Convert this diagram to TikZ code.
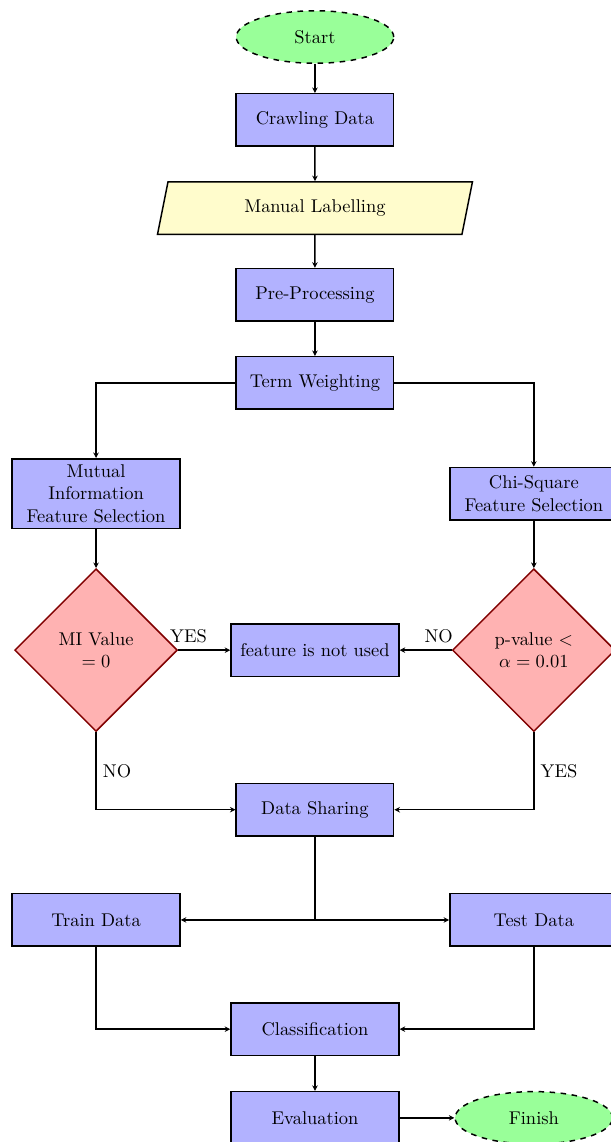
\documentclass[tikz,border=0pt]{standalone}
\usetikzlibrary{shapes.geometric,arrows.meta}
\usepackage{amsmath}

\begin{document}
\begin{tikzpicture}[>={Stealth[length=3pt,width=3pt]},
  startstop/.style={ellipse,draw,dashed,thick,fill=green!40,minimum width=3cm,minimum height=1cm},
  process/.style={rectangle,draw,thick,fill=blue!30,minimum width=3cm,minimum height=1cm,align=center},
  wideprocess/.style={process,minimum width=3.2cm},
  io/.style={trapezium,trapezium left angle=70,trapezium right angle=110,trapezium stretches body,
    draw,thick,fill=yellow!20,minimum width=6cm,minimum height=1cm},
  decision/.style={diamond,draw=red!50!black,thick,fill=red!30,aspect=1,minimum size=3.1cm,
    inner sep=0pt,align=center},
  arrow/.style={thick,->},
  line/.style={thick}]

  \useasboundingbox (-6,0.705) rectangle (5.638,-21.05);

  % Alur utama
  \node[startstop] (start) at (0,0) {Start};
  \node[process] (crawl) at (0,-1.58) {Crawling Data};
  \node[io] (label) at (0,-3.26) {Manual Labelling};
  \node[process] (prepro) at (0,-4.91) {Pre-Processing};
  \node[process] (term) at (0,-6.59) {Term Weighting};

  % Seleksi fitur
  \node[wideprocess] (mi) at (-4.17,-8.7) {Mutual\\ Information\\ Feature Selection};
  \node[wideprocess] (chi) at (4.17,-8.7) {Chi-Square\\ Feature Selection};
  \node[decision] (cekmi) at (-4.17,-11.68) {MI Value\\ $=0$};
  \node[decision] (cekchi) at (4.17,-11.68) {p-value $<$\\ $\alpha=0.01$};
  \node[wideprocess] (unused) at (0,-11.68) {feature is not used};

  % Pembagian data
  \node[process] (share) at (0,-14.72) {Data Sharing};
  \node[wideprocess] (train) at (-4.17,-16.82) {Train Data};
  \node[wideprocess] (test) at (4.17,-16.82) {Test Data};
  \coordinate (split) at (share |- train);

  % Klasifikasi
  \node[wideprocess] (classify) at (0,-18.9) {Classification};
  \node[wideprocess] (eval) at (0,-20.59) {Evaluation};
  \node[startstop] (finish) at (4.17,-20.59) {Finish};

  \draw[arrow] (start) -- (crawl);
  \draw[arrow] (crawl) -- (label);
  \draw[arrow] (label) -- (prepro);
  \draw[arrow] (prepro) -- (term);
  \draw[arrow] (term.west) -| (mi.north);
  \draw[arrow] (term.east) -| (chi.north);
  \draw[arrow] (mi) -- (cekmi);
  \draw[arrow] (chi) -- (cekchi);

  \draw[arrow] (cekmi.east) -- (unused.west) node[pos=0.2,above] {YES};
  \draw[arrow] (cekchi.west) -- (unused.east) node[pos=0.25,above] {NO};
  \draw[arrow] (cekmi.south) |- (share.west) node[pos=0.25,right] {NO};
  \draw[arrow] (cekchi.south) |- (share.east) node[pos=0.25,right] {YES};

  \draw[line] (share.south) -- (split);
  \draw[arrow] (split) -- (train.east);
  \draw[arrow] (split) -- (test.west);

  \draw[arrow] (train.south) |- (classify.west);
  \draw[arrow] (test.south) |- (classify.east);
  \draw[arrow] (classify) -- (eval);
  \draw[arrow] (eval) -- (finish);

\end{tikzpicture}
\end{document}
